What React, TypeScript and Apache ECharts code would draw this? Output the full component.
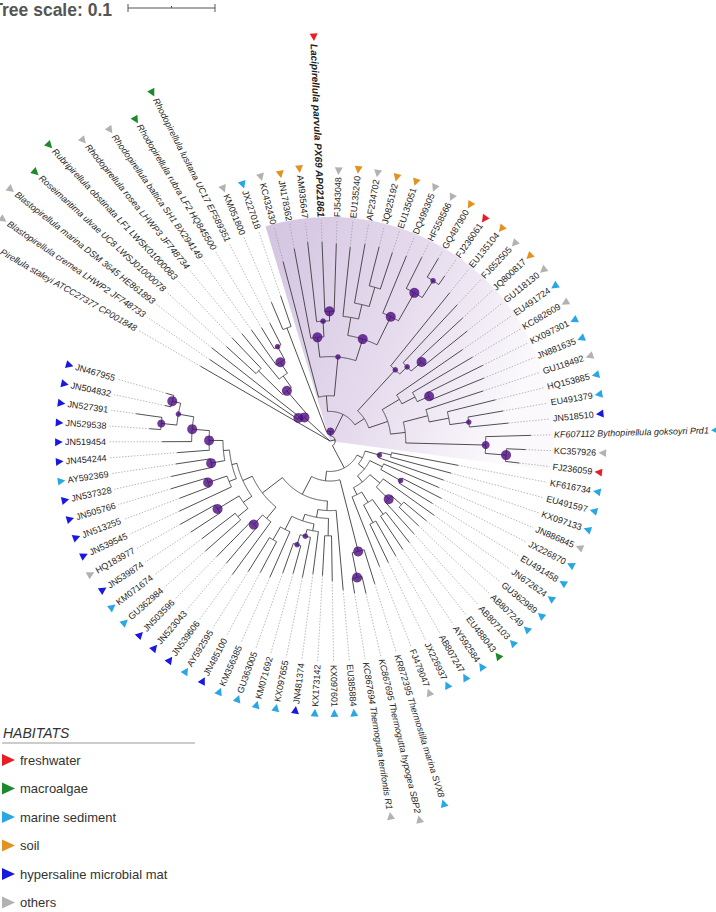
import React, { useEffect, useRef } from 'react';
import * as echarts from 'echarts';

// ---------------- data ----------------
const HABITATS = ['freshwater', 'macroalgae', 'marine sediment', 'soil', 'hypersaline microbial mat', 'others'];
const HABITAT_COLORS = ['#ec1c24', '#1c8a2a', '#29a6e4', '#e3921f', '#1818e0', '#b2b2b2'];

// leaves in clockwise order (starting after the root gap)
const LEAF_IDS = ['CP001848','JF748733','HE861893','LWSJ01000078','LWSK01000083','JF748734','BX294149','HQ845500','EF589351','KM051800','JX227018','KC432430','JN178362','AM935647','AP021861','FJ543048','EU135240','AF234702','JQ825192','EU135051','DQ499305','HF558566','GQ487900','FJ236061','EU135104','FJ652505','JQ800817','GU118130','EU491724','KC682609','KX097301','JN881635','GU118492','HQ153885','EU491379','JN518510','KF607112','KC357926','FJ236059','KF616734','EU491597','KX097133','JN886845','JX226870','EU491458','JN672624','GU362989','AB807249','AB807103','EU488043','AY592584','AB807247','JX226937','FJ479047','KR872395','KC867695','KC867694','EU385884','KX097601','KX173142','JN481374','KX097655','KM071692','GU363005','KM356385','JN485100','AY592595','JN539606','JN523043','JN503596','GU362984','KM071674','JN539874','HQ183977','JN539545','JN513255','JN505766','JN537328','AY592369','JN454244','JN519454','JN529538','JN527391','JN504832','JN467955'];

const LEAF_LABELS = ['Pirellula staleyi ATCC27377 CP001848','Blastopirellula cremea LHWP2 JF748733','Blastopirellula marina DSM 3645 HE861893','Roseimaritima ulvae UC8 LWSJ01000078','Rubripirellula obstinata LF1 LWSK01000083','Rhodopirellula rosea LHWP3 JF748734','Rhodopirellula baltica SH1 BX294149','Rhodopirellula rubra LF2 HQ845500','Rhodopirellula lusitana UC17 EF589351','KM051800','JX227018','KC432430','JN178362','AM935647','Lacipirellula parvula PX69 AP021861','FJ543048','EU135240','AF234702','JQ825192','EU135051','DQ499305','HF558566','GQ487900','FJ236061','EU135104','FJ652505','JQ800817','GU118130','EU491724','KC682609','KX097301','JN881635','GU118492','HQ153885','EU491379','JN518510','KF607112 Bythopirellula goksoyri Prd1','KC357926','FJ236059','KF616734','EU491597','KX097133','JN886845','JX226870','EU491458','JN672624','GU362989','AB807249','AB807103','EU488043','AY592584','AB807247','JX226937','FJ479047','KR872395 Thermostilla marina SVX8','KC867695 Thermogutta hypogea SBP2','KC867694 Thermogutta terrifontis R1','EU385884','KX097601','KX173142','JN481374','KX097655','KM071692','GU363005','KM356385','JN485100','AY592595','JN539606','JN523043','JN503596','GU362984','KM071674','JN539874','HQ183977','JN539545','JN513255','JN505766','JN537328','AY592369','JN454244','JN519454','JN529538','JN527391','JN504832','JN467955'];

// index into HABITATS
const LEAF_HABITAT = [5,5,5,1,1,5,5,1,1,5, 2,5,3,3,0,5,3,5,3,3, 5,5,3,0,3,5,3,5,2,5, 2,2,5,2,2,4,2,5,0,2, 2,2,5,2,2,2,2,2,2,1, 2,2,2,5,2,5,5,2,2,2, 4,2,2,2,2,4,2,4,4,4, 2,2,4,5,4,4,4,4,2,4, 4,4,4,4,4];

// 0 plain, 1 italic, 2 bold italic
const LEAF_FONT = [1,1,1,1,1,1,1,1,1,0, 0,0,0,0,2,0,0,0,0,0, 0,0,0,0,0,0,0,0,0,0, 0,0,0,0,0,0,1,0,0,0, 0,0,0,0,0,0,0,0,0,0, 0,0,0,0,1,1,1,0,0,0, 0,0,0,0,0,0,0,0,0,0, 0,0,0,0,0,0,0,0,0,0, 0,0,0,0,0];

// clades (Newick, branch lengths in substitutions/site, internal labels = bootstrap)
const CLADE_RHODO = '((JF748733:0.122,HE861893:0.128)100:0.005,((LWSJ01000078:0.046,LWSK01000083:0.048):0.039,(JF748734:0.067,(BX294149:0.049,(HQ845500:0.028,EF589351:0.028)70:0.017)100:0.015):0.016)100:0.036)100:0.040';
const CLADE_KM = '(KM051800:0.034,JX227018:0.037):0.128';
const CLADE_LACI_TOP = '(KC432430:0.161,((JN178362:0.105,(AM935647:0.092,(AP021861:0.080,FJ543048:0.078)100:0.011)70:0.018)100:0.023,((EU135240:0.080,(AF234702:0.069,(JQ825192:0.046,EU135051:0.044):0.023):0.017):0.021,(DQ499305:0.071,(HF558566:0.040,(GQ487900:0.025,FJ236061:0.012)70:0.023)100:0.037)100:0.036)100:0.026)70:0.045):0.018';
const CLADE_LACI_BOTTOM = '((EU135104:0.108,(FJ652505:0.091,(JQ800817:0.069,GU118130:0.063)100:0.016)70:0.012)70:0.064,((EU491724:0.092,(KC682609:0.080,(KX097301:0.071,JN881635:0.066)100:0.015):0.017):0.023,((GU118492:0.069,(HQ153885:0.057,(EU491379:0.041,JN518510:0.045)70:0.022):0.023):0.029,(KF607112:0.052,(KC357926:0.022,FJ236059:0.016)100:0.024)85:0.092):0.017):0.023):0.013';
const CLADE_MARINE = '(((KF616734:0.078,EU491597:0.072):0.013,KX097133:0.079)70:0.017,((JN886845:0.069,(JX226870:0.051,EU491458:0.045)70:0.026):0.016,((JN672624:0.072,((GU362989:0.034,AB807249:0.031):0.015,AB807103:0.049)100:0.020):0.015,(((EU488043:0.044,AY592584:0.046):0.021,(AB807247:0.046,JX226937:0.049):0.023):0.014,FJ479047:0.086):0.009):0.009):0.009):0.007';
const CLADE_THERMO = '(KR872395:0.041,(KC867695:0.020,KC867694:0.017)100:0.029)100:0.085';
const CLADE_SEDIMENT = '(EU385884:0.092,((KX097601:0.052,KX173142:0.046):0.020,((JN481374:0.049,(KX097655:0.047,(KM071692:0.033,GU363005:0.036)70:0.012)70:0.008):0.008,(KM356385:0.057,(JN485100:0.040,AY592595:0.046):0.017):0.017):0.008):0.009):0.011';
const CLADE_MAT = '((JN539606:0.075,(JN523043:0.054,JN503596:0.056)100:0.015):0.017,(((GU362984:0.054,KM071674:0.048):0.015,(JN539874:0.040,HQ183977:0.046)100:0.029):0.012,((JN539545:0.066,(JN513255:0.037,JN505766:0.043)100:0.023):0.009,((JN537328:0.048,AY592369:0.040)100:0.016,(JN454244:0.037,(JN519454:0.034,((JN529538:0.013,JN527391:0.030)85:0.018,(JN504832:0.007,JN467955:0.009)100:0.010)70:0.018)100:0.020)100:0.016):0.007):0.006):0.012):0.029';

const TREE_NEWICK =
  '(CP001848:0.172,' + CLADE_RHODO + ',((' + CLADE_KM + ',(' +
  CLADE_LACI_TOP + ',' + CLADE_LACI_BOTTOM + '):0.023)85:0.005,(' +
  CLADE_MARINE + ',(' + CLADE_THERMO + ',(' + CLADE_SEDIMENT + ',' + CLADE_MAT + '):0.023):0.011):0.029):0.006)';

const SHADED_CLADE = ['KC432430', 'FJ236059'];
const SCALE_BAR = 0.1;
const SCALE_TITLE = 'Tree scale: 0.1';
const LEGEND_TITLE = 'HABITATS';

// ---------------- layout constants ----------------
const CENTER = [330, 441];
const RADIUS_MAX = 0.3;
const POLAR_RADIUS = 261;
const PX_PER_UNIT = POLAR_RADIUS / RADIUS_MAX;
const START_ANGLE = 150;
const LEAF_STEP_DEG = 4.122;
const ANGLE_MAX = 360 / LEAF_STEP_DEG;
const LEADER_END = 0.254;
const LABEL_R = 0.2575;
const WEDGE_R = 0.2575;
const FONT_FAMILY = '"Liberation Sans", Arial, Helvetica, sans-serif';

type TNode = { name: string; len: number; children: TNode[]; r: number; a: number; boot?: number };

function parseNewick(src: string): TNode {
  const s = src.replace(/\s+/g, '');
  let i = 0;
  const parse = (): TNode => {
    const node: TNode = { name: '', len: 0, children: [], r: 0, a: 0 };
    if (s[i] === '(') {
      i++;
      node.children.push(parse());
      while (s[i] === ',') { i++; node.children.push(parse()); }
      i++;
    }
    let name = '';
    while (i < s.length && ':,);'.indexOf(s[i]) < 0) name += s[i++];
    node.name = name;
    if (s[i] === ':') {
      i++;
      let num = '';
      while (i < s.length && ',);'.indexOf(s[i]) < 0) num += s[i++];
      node.len = parseFloat(num);
    }
    return node;
  };
  return parse();
}

function buildOption() {
  const root = parseNewick(TREE_NEWICK);
  const leaves: TNode[] = [];
  const internals: TNode[] = [];
  const radial: { r0: number; r1: number; a: number }[] = [];
  const arcs: { r: number; a0: number; a1: number }[] = [];
  let leafCounter = 0;
  const lay = (n: TNode, depth: number, isRoot: boolean) => {
    n.r = depth + (isRoot ? 0 : n.len);
    if (!n.children.length) {
      n.a = leafCounter++;
      leaves.push(n);
    } else {
      n.children.forEach((c) => lay(c, n.r, false));
      n.a = (n.children[0].a + n.children[n.children.length - 1].a) / 2;
      internals.push(n);
      if (n.name) n.boot = parseFloat(n.name);
      if (n.r > 0) arcs.push({ r: n.r, a0: n.children[0].a, a1: n.children[n.children.length - 1].a });
    }
    if (!isRoot) radial.push({ r0: depth, r1: n.r, a: n.a });
  };
  lay(root, 0, true);

  const idIndex: Record<string, number> = {};
  LEAF_IDS.forEach((id, k) => (idIndex[id] = k));
  const leafInfo = leaves.map((n) => {
    const k = idIndex[n.name];
    return {
      r: n.r,
      a: n.a,
      label: LEAF_LABELS[k],
      color: HABITAT_COLORS[LEAF_HABITAT[k]],
      font: LEAF_FONT[k],
      id: n.name,
    };
  });
  const shadedFirst = leafInfo.find((l) => l.id === SHADED_CLADE[0])!;
  const shadedLast = leafInfo.find((l) => l.id === SHADED_CLADE[1])!;

  const canvas = document.createElement('canvas');
  const ctx = canvas.getContext('2d')!;
  const fontOf = (f: number) => {
    const size = f === 2 ? 10 : 9;
    return {
      size,
      style: f >= 1 ? 'italic' : 'normal',
      weight: f === 2 ? 'bold' : 'normal',
      css: `${f >= 1 ? 'italic ' : ''}${f === 2 ? 'bold ' : ''}${size}px ${FONT_FAMILY}`,
    };
  };
  const measure = (t: string, css: string) => {
    ctx.font = css;
    return ctx.measureText(t).width;
  };

  const bootNodes = internals.filter((n) => n.boot && n.r > 0);

  const sampleArc = (api: any, r: number, a0: number, a1: number) => {
    const steps = Math.max(2, Math.ceil(Math.abs(a1 - a0) / 0.08));
    const pts: number[][] = [];
    for (let k = 0; k <= steps; k++) pts.push(api.coord([r, a0 + ((a1 - a0) * k) / steps]));
    return pts;
  };

  const legendChildren: any[] = [
    { type: 'text', x: 3, y: 733, style: { text: LEGEND_TITLE, fontSize: 14, fontStyle: 'italic', fontFamily: FONT_FAMILY, fill: '#333', verticalAlign: 'middle' } },
    { type: 'line', shape: { x1: 2, y1: 743, x2: 195, y2: 743 }, style: { stroke: '#9a9a9a', lineWidth: 1 } },
  ];
  HABITATS.forEach((h, k) => {
    const cy = 760 + k * 28.5;
    legendChildren.push({ type: 'polygon', shape: { points: [[2, cy - 6], [15, cy], [2, cy + 6]] }, style: { fill: HABITAT_COLORS[k] } });
    legendChildren.push({ type: 'text', x: 20, y: cy, style: { text: h, fontSize: 13, fontFamily: FONT_FAMILY, fill: '#333', verticalAlign: 'middle' } });
  });

  const barLen = SCALE_BAR * PX_PER_UNIT;
  const barX = 128;
  const scaleChildren: any[] = [
    { type: 'text', x: -7.7, y: 9.5, style: { text: SCALE_TITLE, fontSize: 17.5, fontWeight: 'bold', fontFamily: FONT_FAMILY, fill: '#555', verticalAlign: 'middle' } },
    { type: 'line', shape: { x1: barX, y1: 8, x2: barX + barLen, y2: 8 }, style: { stroke: '#555', lineWidth: 1 } },
    { type: 'line', shape: { x1: barX, y1: 4, x2: barX, y2: 12 }, style: { stroke: '#555', lineWidth: 1 } },
    { type: 'line', shape: { x1: barX + barLen, y1: 4, x2: barX + barLen, y2: 12 }, style: { stroke: '#555', lineWidth: 1 } },
    { type: 'line', shape: { x1: barX + barLen / 2, y1: 6, x2: barX + barLen / 2, y2: 8 }, style: { stroke: '#555', lineWidth: 1 } },
  ];

  const wedgeFill = new echarts.graphic.LinearGradient(0, 0, 1, 0.35, [
    { offset: 0, color: '#d3c3e0' },
    { offset: 0.55, color: '#e6dcee' },
    { offset: 1, color: '#fbf9fc' },
  ]);

  return {
    animation: false,
    backgroundColor: '#ffffff',
    polar: { center: CENTER, radius: POLAR_RADIUS },
    angleAxis: {
      type: 'value', min: 0, max: ANGLE_MAX, startAngle: START_ANGLE, clockwise: true,
      show: false, axisLine: { show: false }, axisLabel: { show: false }, axisTick: { show: false }, splitLine: { show: false },
    },
    radiusAxis: {
      type: 'value', min: 0, max: RADIUS_MAX,
      show: false, axisLine: { show: false }, axisLabel: { show: false }, axisTick: { show: false }, splitLine: { show: false },
    },
    graphic: [
      { type: 'group', children: scaleChildren },
      { type: 'group', children: legendChildren },
    ],
    series: [
      {
        type: 'custom', coordinateSystem: 'polar', z: 1, silent: true,
        data: [[0, shadedFirst.a]],
        renderItem: (_p: any, api: any) => {
          const a0 = shadedFirst.a - 0.5;
          const a1 = shadedLast.a + 0.25;
          const pts = [api.coord([0, (a0 + a1) / 2]), ...sampleArc(api, WEDGE_R, a0, a1)];
          return { type: 'polygon', shape: { points: pts }, style: { fill: wedgeFill } };
        },
      },
      {
        type: 'custom', coordinateSystem: 'polar', z: 2, silent: true,
        data: leafInfo.map((l) => [l.r, l.a]),
        renderItem: (p: any, api: any) => {
          const l = leafInfo[p.dataIndex];
          const p0 = api.coord([l.r, l.a]);
          const p1 = api.coord([LEADER_END, l.a]);
          return { type: 'line', shape: { x1: p0[0], y1: p0[1], x2: p1[0], y2: p1[1] }, style: { stroke: '#9c9c9c', lineWidth: 0.7, lineDash: [1.5, 1.5] } };
        },
      },
      {
        type: 'custom', coordinateSystem: 'polar', z: 3, silent: true,
        data: radial.map((s) => [s.r1, s.a]),
        renderItem: (p: any, api: any) => {
          const s = radial[p.dataIndex];
          const p0 = api.coord([s.r0, s.a]);
          const p1 = api.coord([s.r1, s.a]);
          return { type: 'line', shape: { x1: p0[0], y1: p0[1], x2: p1[0], y2: p1[1] }, style: { stroke: '#3c3c3c', lineWidth: 0.9 } };
        },
      },
      {
        type: 'custom', coordinateSystem: 'polar', z: 3, silent: true,
        data: arcs.map((s) => [s.r, s.a0]),
        renderItem: (p: any, api: any) => {
          const s = arcs[p.dataIndex];
          return { type: 'polyline', shape: { points: sampleArc(api, s.r, s.a0, s.a1) }, style: { stroke: '#3c3c3c', lineWidth: 0.9, fill: null } };
        },
      },
      {
        type: 'scatter', coordinateSystem: 'polar', z: 4, silent: true,
        data: bootNodes.map((n) => [n.r, n.a, n.boot]),
        symbol: 'circle',
        symbolSize: (v: number[]) => (v[2] >= 95 ? 10 : v[2] >= 80 ? 8 : 5.5),
        itemStyle: { color: '#4b0d7e' },
      },
      {
        type: 'custom', coordinateSystem: 'polar', z: 5, silent: true,
        data: leafInfo.map((l) => [LABEL_R, l.a]),
        renderItem: (p: any, api: any) => {
          const l = leafInfo[p.dataIndex];
          const c = api.coord([0, l.a]);
          const q = api.coord([LABEL_R, l.a]);
          const dx = q[0] - c[0];
          const dy = q[1] - c[1];
          const len = Math.hypot(dx, dy) || 1;
          const ux = dx / len;
          const uy = dy / len;
          const ang = Math.atan2(-dy, dx);
          const right = dx >= 0;
          const rotation = right ? ang : ang + Math.PI;
          const f = fontOf(l.font);
          const w = measure(l.label, f.css);
          const off = w + 6;
          const tx = q[0] + ux * off;
          const ty = q[1] + uy * off;
          const nx = -uy;
          const ny = ux;
          const h = 3.8;
          const b = 4;
          const tri = [
            [tx - ux * h, ty - uy * h],
            [tx + ux * h + nx * b, ty + uy * h + ny * b],
            [tx + ux * h - nx * b, ty + uy * h - ny * b],
          ];
          return {
            type: 'group',
            children: [
              {
                type: 'text', x: q[0], y: q[1], rotation,
                style: {
                  text: l.label, fill: '#1e1e1e', fontSize: f.size, fontStyle: f.style, fontWeight: f.weight,
                  fontFamily: FONT_FAMILY, align: right ? 'left' : 'right', verticalAlign: 'middle',
                },
              },
              { type: 'polygon', shape: { points: tri }, style: { fill: l.color } },
            ],
          };
        },
      },
    ],
  };
}

export default function App() {
  const ref = useRef<HTMLDivElement>(null);
  useEffect(() => {
    if (!ref.current) return;
    const chart = echarts.init(ref.current, null, { renderer: 'svg' });
    chart.setOption(buildOption() as any);
    return () => chart.dispose();
  }, []);
  return <div ref={ref} style={{ position: 'absolute', left: 0, top: 0, width: 716, height: 912, background: '#fff' }} />;
}
